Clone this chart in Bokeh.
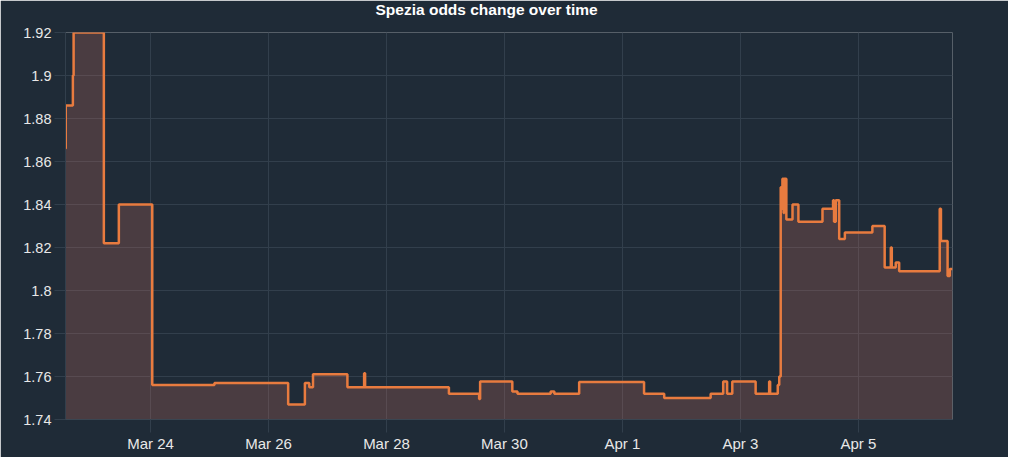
import pandas as pd
from bokeh.plotting import figure
from bokeh.models import Range1d, FixedTicker, CustomJSTickFormatter, Title
from bokeh.embed import file_html
from bokeh.resources import INLINE

# ---- data -------------------------------------------------------------
times = [
    "2023-03-22 13:24", "2023-03-22 13:30", "2023-03-22 16:24", "2023-03-22 16:42",
    "2023-03-23 05:00", "2023-03-23 11:06", "2023-03-24 00:42", "2023-03-25 02:00",
    "2023-03-26 08:00", "2023-03-26 14:48", "2023-03-26 16:36", "2023-03-26 18:06",
    "2023-03-27 08:06", "2023-03-27 14:54", "2023-03-27 15:18", "2023-03-29 01:24",
    "2023-03-29 13:42", "2023-03-29 14:06", "2023-03-30 03:12", "2023-03-30 05:18",
    "2023-03-30 18:48", "2023-03-30 20:18", "2023-03-31 06:24", "2023-04-01 08:48",
    "2023-04-01 17:00", "2023-04-02 11:54", "2023-04-02 17:00", "2023-04-02 18:36",
    "2023-04-02 20:42", "2023-04-03 06:12", "2023-04-03 11:42", "2023-04-03 12:06",
    "2023-04-03 15:12", "2023-04-03 15:48", "2023-04-03 16:24", "2023-04-03 16:36",
    "2023-04-03 16:48", "2023-04-03 17:06", "2023-04-03 17:36", "2023-04-03 17:48",
    "2023-04-03 18:42", "2023-04-03 21:12", "2023-04-03 23:36", "2023-04-04 09:24",
    "2023-04-04 13:42", "2023-04-04 14:06", "2023-04-04 14:48", "2023-04-04 16:12",
    "2023-04-04 18:30", "2023-04-05 05:42", "2023-04-05 10:42", "2023-04-05 13:12",
    "2023-04-05 13:36", "2023-04-05 15:12", "2023-04-05 16:36", "2023-04-06 09:06",
    "2023-04-06 09:36", "2023-04-06 12:18", "2023-04-06 13:12", "2023-04-06 14:18",
]
odds = [
    1.866, 1.886, 1.900, 1.920,
    1.822, 1.840, 1.756, 1.757,
    1.747, 1.757, 1.755, 1.761,
    1.755, 1.7615, 1.755, 1.752,
    1.7495, 1.7577, 1.753, 1.752,
    1.753, 1.752, 1.7575, 1.752,
    1.750, 1.752, 1.7577, 1.752,
    1.7577, 1.752, 1.7577, 1.752,
    1.756, 1.760, 1.848, 1.838,
    1.848, 1.852, 1.836, 1.852,
    1.833, 1.840, 1.832, 1.838,
    1.842, 1.832, 1.842, 1.824,
    1.827, 1.830, 1.8107, 1.820,
    1.8107, 1.813, 1.809, 1.838,
    1.823, 1.8068, 1.810, 1.810,
]
x_tick_dates = ["2023-03-24", "2023-03-26", "2023-03-28", "2023-03-30",
                "2023-04-01", "2023-04-03", "2023-04-05"]
y_ticks = [1.74, 1.76, 1.78, 1.80, 1.82, 1.84, 1.86, 1.88, 1.90, 1.92]
title_text = "Spezia odds change over time"

# ---- styling ----------------------------------------------------------
BG = "#1f2b37"
GRID = "#323f4c"
LINE = "#e87b3f"
TXT = "#e8e8e8"
FONT = "Liberation Sans"

x = pd.to_datetime(times)
epoch = pd.Timestamp("1970-01-01")
tick_ms = [int((pd.Timestamp(d) - epoch) // pd.Timedelta(milliseconds=1)) for d in x_tick_dates]

p = figure(width=1008, height=457, x_axis_type="datetime",
           output_backend="svg", toolbar_location=None,
           x_range=Range1d(x[0], x[-1]), y_range=Range1d(1.74, 1.92),
           min_border_left=65, min_border_right=56, min_border_top=32,
           min_border_bottom=38, title=title_text)

p.background_fill_color = BG
p.border_fill_color = BG
p.outline_line_color = None

p.title.align = "left"
p.title.offset = 310
p.title.text_color = "#ffffff"
p.title.text_font = FONT
p.title.text_font_size = "15.5px"
p.title.text_font_style = "bold"
p.title.standoff = -4

# spacer between the title and the plot frame
spacer = Title(text=" ", text_font_size="10px", standoff=3.5, text_color=BG)
p.add_layout(spacer, "above")

p.varea_step(x=x, y1=1.74, y2=odds, step_mode="after",
             fill_color="#cb6f5f", fill_alpha=0.25)
p.step(x=x, y=odds, mode="after", line_color=LINE, line_width=2.5)

# axes
p.xaxis.ticker = FixedTicker(ticks=tick_ms)
p.xaxis.formatter = CustomJSTickFormatter(code="""
const m = ['Jan','Feb','Mar','Apr','May','Jun','Jul','Aug','Sep','Oct','Nov','Dec'];
const d = new Date(tick);
return m[d.getUTCMonth()] + ' ' + d.getUTCDate();
""")
p.yaxis.ticker = FixedTicker(ticks=y_ticks)
p.yaxis.formatter = CustomJSTickFormatter(code="return String(parseFloat(tick.toFixed(2)));")

for ax in (p.xaxis, p.yaxis):
    ax.major_label_text_color = TXT
    ax.major_label_text_font = FONT
    ax.minor_tick_line_color = None
    ax.major_tick_line_color = GRID
    ax.major_tick_in = 0

p.xaxis.major_label_text_font_size = "15px"
p.yaxis.major_label_text_font_size = "14.5px"
p.xaxis.axis_line_color = "#3a4652"
p.xaxis.major_tick_out = 13
p.xaxis.major_label_standoff = 2
p.yaxis.axis_line_color = GRID
p.yaxis.major_tick_out = 11
p.yaxis.major_label_standoff = 3

p.xgrid.grid_line_color = GRID
p.ygrid.grid_line_color = GRID
p.xgrid.ticker = FixedTicker(ticks=tick_ms)
p.ygrid.ticker = FixedTicker(ticks=y_ticks)

html = file_html(p, INLINE, title=title_text)
html = html.replace("<body>", '<body style="background-color:%s;">' % BG, 1)
open("out.html", "w").write(html)
